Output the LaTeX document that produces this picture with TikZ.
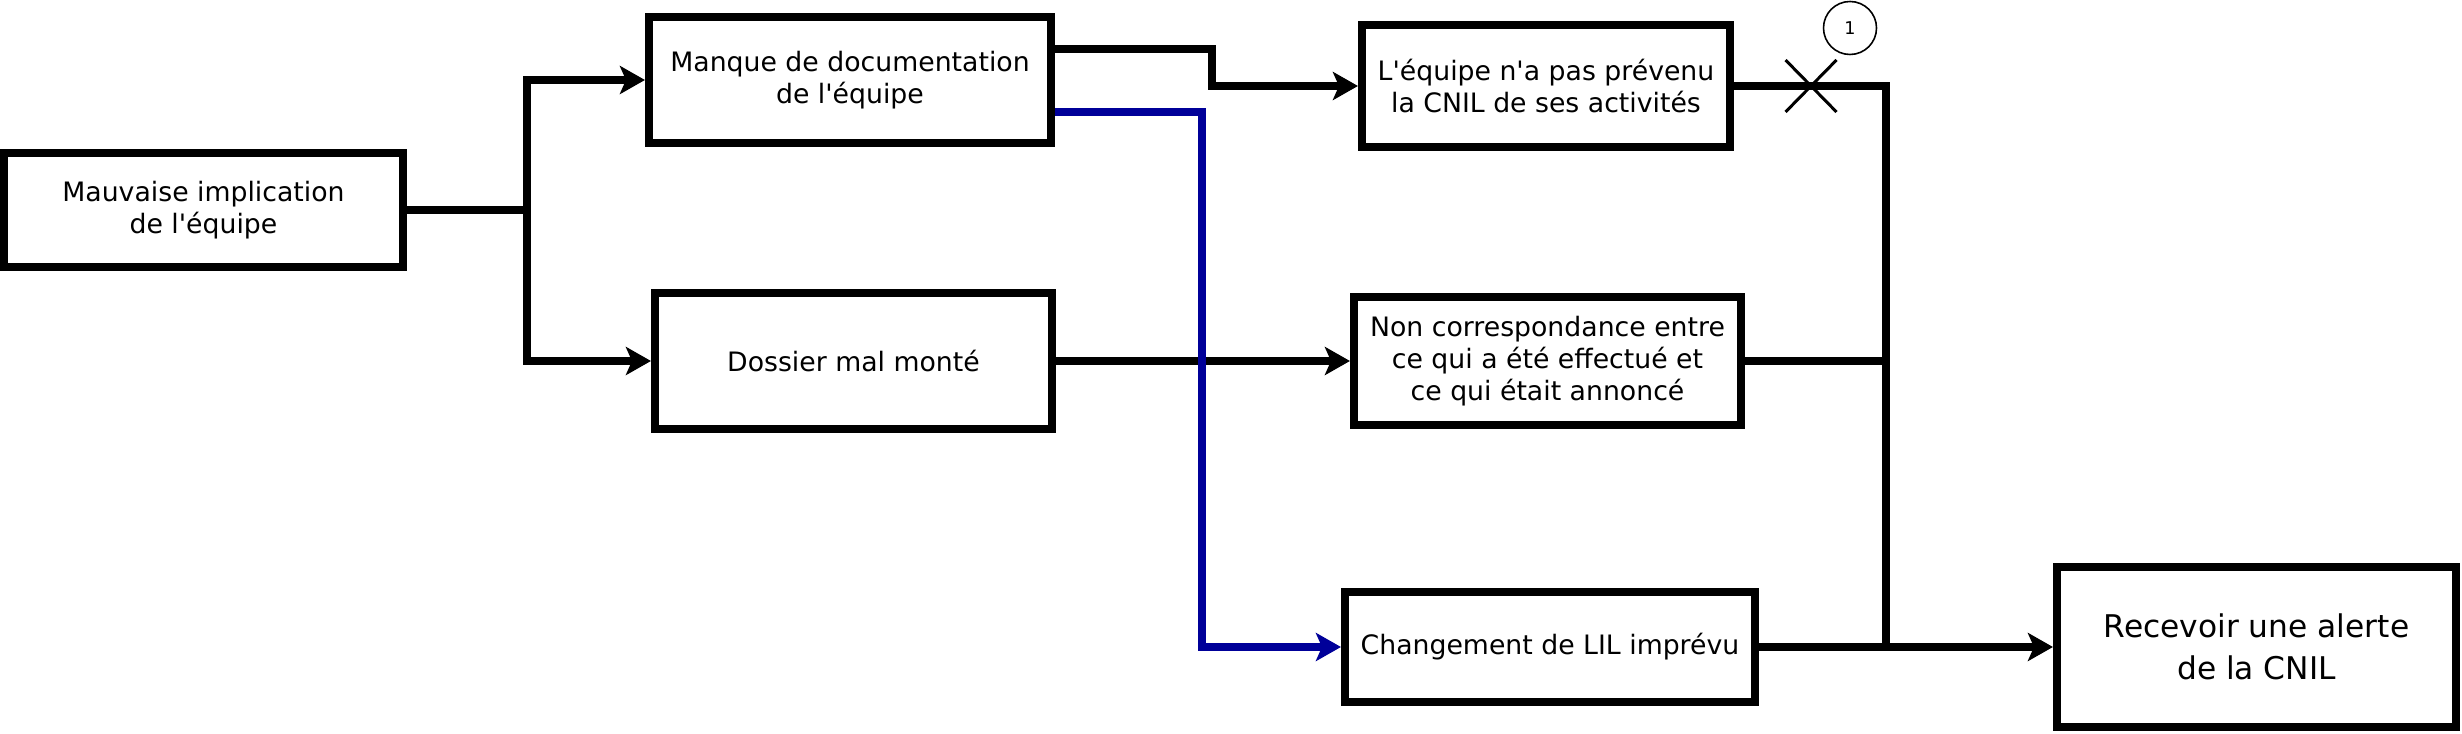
\documentclass[tikz,border=0pt]{standalone}
\usepackage{fontspec}
\setmainfont{DejaVu Sans}[Ligatures=TeXOff]
\usetikzlibrary{arrows.meta,shapes.misc}
\definecolor{lilblue}{RGB}{0,0,153}

\begin{document}
\begin{tikzpicture}[
    box/.style={rectangle, draw, line width=2.3pt, inner sep=0pt, align=center, font=\fontsize{7.6}{9.1}\selectfont},
    conn/.style={line width=2.3pt},
    >={Stealth[length=2.5mm, width=2.8mm, inset=0.6mm]}
]

    \useasboundingbox (0,0) rectangle (24.62,7.33);

    \node [box, minimum width=3.99cm, minimum height=1.14cm] (impl) at (2.035,5.23) {Mauvaise implication\\de l'équipe};
    \node [box, minimum width=4.02cm, minimum height=1.26cm] (doc) at (8.50,6.53) {Manque de documentation\\de l'équipe};
    \node [box, minimum width=3.97cm, minimum height=1.36cm] (dossier) at (8.535,3.72) {Dossier mal monté};
    \node [box, minimum width=3.68cm, minimum height=1.22cm] (cnil) at (15.46,6.47) {L'équipe n'a pas prévenu\\la CNIL de ses activités};
    \node [box, minimum width=3.87cm, minimum height=1.28cm] (corresp) at (15.475,3.72) {Non correspondance entre\\ce qui a été effectué et\\ce qui était annoncé};
    \node [box, minimum width=4.10cm, minimum height=1.10cm] (lil) at (15.50,0.86) {Changement de LIL imprévu};
    \node [box, minimum width=3.99cm, minimum height=1.60cm, font=\fontsize{8.9}{11.9}\selectfont] (alerte) at (22.565,0.86) {Recevoir une alerte\\de la CNIL};

    \node [cross out, draw, line width=0.85pt, minimum width=0.48cm, minimum height=0.49cm, inner sep=0pt] (X) at (18.11,6.47) {};
    \node [circle, draw, line width=0.45pt, minimum size=0.53cm, inner sep=0pt, font=\fontsize{5}{6}\selectfont] (one) at (18.50,7.05) {1};

    \coordinate (jImpl) at (5.27,5.23);
    \coordinate (jAlerte) at (18.86,0.86);

    \draw [conn] (impl.east) -- (jImpl);
    \draw [conn,->] (jImpl) |- (doc.west);
    \draw [conn,->] (jImpl) |- (dossier.west);
    \draw [conn,->] ([yshift=3.1mm]doc.east) -- ++(1.57,0) |- (cnil.west);
    \draw [conn,->] (dossier.east) -- (corresp.west);
    \draw [conn,->,lilblue] ([yshift=-3.2mm]doc.east) -- ++(1.47,0) |- (lil.west);

    \draw [conn] (cnil.east) -| (jAlerte);
    \draw [conn] (corresp.east) -- (corresp.east -| jAlerte);
    \draw [conn] (lil.east) -- (jAlerte);
    \draw [conn,->] (jAlerte) -- (alerte.west);

\end{tikzpicture}
\end{document}
